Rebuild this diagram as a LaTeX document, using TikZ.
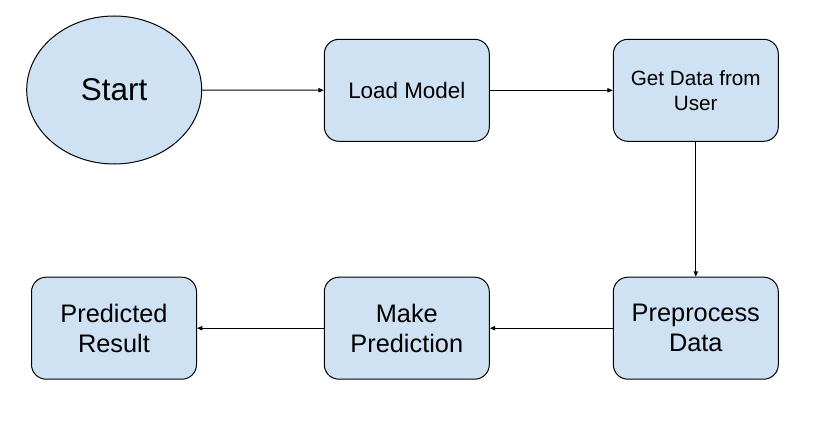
\documentclass[tikz,border=0pt]{standalone}
\usepackage{fontspec}
\setmainfont{Liberation Sans}
\usetikzlibrary{shapes.geometric,arrows.meta}
\definecolor{boxfill}{HTML}{CFE2F3}
\tikzset{
  px/.style={x=0.75pt,y=-0.75pt},
  stepbox/.style={draw=black,fill=boxfill,line width=0.75pt,rectangle,rounded corners=11pt,
    minimum width=123.75pt,minimum height=76.5pt,inner sep=0pt,align=center},
  startnode/.style={draw=black,fill=boxfill,line width=0.75pt,ellipse,
    minimum width=131.25pt,minimum height=111pt,inner sep=0pt},
  conn/.style={line width=0.75pt,-{Triangle[length=4pt,width=3.2pt]}},
  fbig/.style={font=\fontsize{23.6}{28.3}\selectfont},
  fmid/.style={font=\fontsize{19}{22.8}\selectfont},
  fsmall/.style={font=\fontsize{16.8}{20.2}\selectfont},
  fxs/.style={font=\fontsize{15.5}{18.8}\selectfont},
}
\begin{document}
\begin{tikzpicture}[px]
\useasboundingbox (0,0) rectangle (817,428);
\node[startnode,fbig] (start) at (114.2,90) {Start};
\node[stepbox,fsmall] (load) at (406.8,90.3) {Load Model};
\node[stepbox,fxs] (get) at (695.8,90.3) {Get Data from\\User};
\node[stepbox,fmid] (pre) at (695.8,328.2) {Preprocess\\Data};
\node[stepbox,fmid] (make) at (406.8,328.2) {Make\\Prediction};
\node[stepbox,fmid] (res) at (114,328.2) {Predicted\\Result};
\draw[conn] (start) -- (load);
\draw[conn] (load) -- (get);
\draw[conn] (get) -- (pre);
\draw[conn] (pre) -- (make);
\draw[conn] (make) -- (res);
\end{tikzpicture}
\end{document}
